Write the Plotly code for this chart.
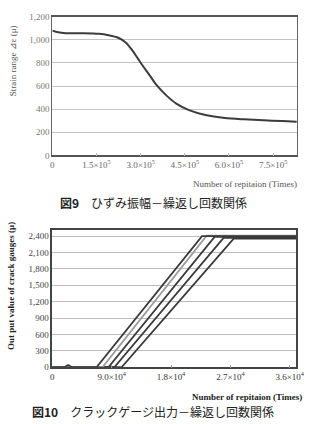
import plotly.graph_objects as go

# ---- Figure 9 data: strain range vs number of repetitions ----
top_x = [0, 2.0e4, 4.5e4, 1.0e5, 1.58e5, 1.91e5, 2.24e5, 2.5e5, 2.7e5, 2.9e5, 3.1e5,
         3.3e5, 3.55e5, 3.88e5, 4.21e5, 4.64e5, 5.2e5, 5.86e5, 6.51e5, 7.17e5,
         7.8e5, 8.3e5]
top_y = [1080, 1065, 1058, 1057, 1052, 1040, 1018, 975, 915, 840, 765,
         695, 605, 517, 448, 392, 350, 324, 312, 303, 298, 292]
top_tickvals = [0, 1.5e5, 3.0e5, 4.5e5, 6.0e5, 7.5e5]
top_ticktext = ["0", "1.5×10<sup>5</sup>", "3.0×10<sup>5</sup>", "4.5×10<sup>5</sup>",
                "6.0×10<sup>5</sup>", "7.5×10<sup>5</sup>"]

# ---- Figure 10 data: crack gauge output vs number of repetitions ----
gA_x = [0, 1800, 2400, 3000, 6700, 22700, 37000]
gA_y = [0, 0, 40, 0, 0, 2400, 2400]
gB_x = [0, 7600, 23400, 37000]
gB_y = [0, 0, 2410, 2410]
gC_x = [0, 8500, 24600, 37000]
gC_y = [0, 0, 2385, 2385]
gD_x = [0, 9400, 26000, 37000]
gD_y = [0, 0, 2370, 2370]
gE_x = [0, 10500, 27500, 37000]
gE_y = [0, 0, 2355, 2355]
bot_tickvals = [0, 9000, 18000, 27000, 36000]
bot_ticktext = ["0", "9.0×10<sup>4</sup>", "1.8×10<sup>4</sup>", "2.7×10<sup>4</sup>",
                "3.6×10<sup>4</sup>"]

SERIF = "Liberation Serif, DejaVu Serif, serif"
CJK = "Noto Sans CJK JP"

fig = go.Figure()
fig.add_trace(go.Scatter(x=top_x, y=top_y, mode="lines",
                         line=dict(color="#3c3c3c", width=2, shape="spline", smoothing=0.8),
                         xaxis="x", yaxis="y", showlegend=False, hoverinfo="skip"))

dark = "#3a3a3a"
for xs, ys, col in [(gE_x, gE_y, dark), (gD_x, gD_y, dark), (gC_x, gC_y, dark),
                    (gB_x, gB_y, "#9c9c9c"), (gA_x, gA_y, dark)]:
    fig.add_trace(go.Scatter(x=xs, y=ys, mode="lines", line=dict(color=col, width=1.8),
                             xaxis="x2", yaxis="y2", showlegend=False, hoverinfo="skip"))

W, H = 314, 424
def px(x): return x / W
def py(y): return 1 - y / H

fig.update_layout(
    width=W, height=H, margin=dict(l=0, r=0, t=0, b=0),
    paper_bgcolor="white", plot_bgcolor="white",
    xaxis=dict(domain=[px(52), px(305)], anchor="y", range=[0, 8.32e5],
               tickvals=top_tickvals, ticktext=top_ticktext, showgrid=False,
               showline=True, linecolor="#555", linewidth=1.5, mirror=True,
               ticks="inside", ticklen=3, tickcolor="#bbb",
               tickfont=dict(family=SERIF, size=9, color="#666"), zeroline=False),
    yaxis=dict(domain=[py(154), py(12)], anchor="x", range=[0, 1200], dtick=200,
               tickformat=",", showgrid=True, gridcolor="#c4c4c4", gridwidth=1,
               showline=True, linecolor="#666", linewidth=1.2, mirror=True,
               ticks="", tickfont=dict(family=SERIF, size=9, color="#777"), zeroline=False),
    xaxis2=dict(domain=[px(52), px(304)], anchor="y2", range=[0, 37000],
                tickvals=bot_tickvals, ticktext=bot_ticktext, showgrid=False,
                showline=True, linecolor="#444", linewidth=1.5, mirror=True,
                ticks="inside", ticklen=3, tickcolor="#999",
                tickfont=dict(family=SERIF, size=9, color="#333"), zeroline=False),
    yaxis2=dict(domain=[py(371), py(230)], anchor="x2", range=[0, 2520], dtick=300,
                tickformat=",", showgrid=True, gridcolor="#bcbcbc", gridwidth=1,
                showline=True, linecolor="#444", linewidth=1.5, mirror=True,
                ticks="", tickfont=dict(family=SERIF, size=9, color="#444"), zeroline=False),
)

ann = [
    dict(x=px(11), y=py(57), text="Strain range ⊿ε (μ)", textangle=-90,
         font=dict(family=SERIF, size=9, color="#555")),
    dict(x=px(307), y=py(183), text="Number of repitaion (Times)", xanchor="right",
         font=dict(family=SERIF, size=9, color="#555")),
    dict(x=px(156), y=py(202), text="<b>図9</b>　ひずみ振幅－繰返し回数関係",
         font=dict(family=CJK, size=12, color="#222")),
    dict(x=px(10), y=py(288), text="<b>Out put value of crack gauges (μ)</b>", textangle=-90,
         font=dict(family=SERIF, size=9, color="#222")),
    dict(x=px(312), y=py(401), text="<b>Number of repitaion (Times)</b>", xanchor="right",
         font=dict(family=SERIF, size=9, color="#222")),
    dict(x=px(156), y=py(416), text="<b>図10</b>　クラックゲージ出力－繰返し回数関係",
         font=dict(family=CJK, size=12, color="#222")),
]
for a in ann:
    a.update(xref="paper", yref="paper", showarrow=False)
    a.setdefault("xanchor", "center")
    a["yanchor"] = "middle"
fig.update_layout(annotations=ann)

fig.write_html("out.html")
